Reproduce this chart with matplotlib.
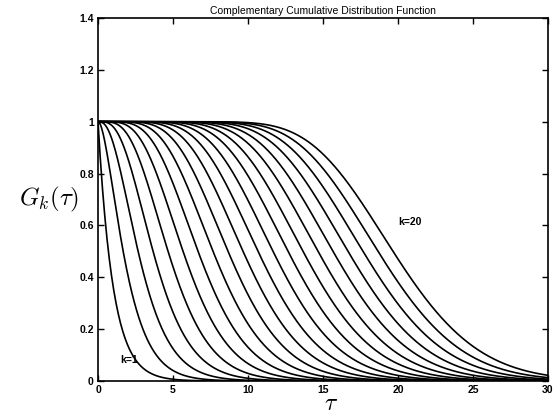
import math

import matplotlib
matplotlib.use("Agg")
import matplotlib.pyplot as plt
import numpy as np

# ===== DATA =====
# Erlang shape parameters for the plotted curves, unit rate
k_values = list(range(1, 21))
tau_max = 30.0
n_tau = 601
tau = np.linspace(0.0, tau_max, n_tau)


def erlang_ccdf(k, t):
    """G_k(t) = sum_{n<k} e^{-t} t^n / n!"""
    total = np.zeros_like(t)
    for n in range(k):
        total += t ** n / math.factorial(n)
    return np.exp(-t) * total


plt.rcParams["font.family"] = ["Liberation Sans", "DejaVu Sans"]
plt.rcParams["mathtext.fontset"] = "cm"

fig = plt.figure(figsize=(5.55, 4.15), dpi=100)
ax = fig.add_axes([98 / 555, 1 - 381 / 415, 450 / 555, 363 / 415])

for k in k_values:
    ax.plot(tau, erlang_ccdf(k, tau), color="black", lw=1.2)

ax.set_xlim(0, 30)
ax.set_ylim(0, 1.4)
ax.set_xticks([0, 5, 10, 15, 20, 25, 30])
ax.set_yticks([0, 0.2, 0.4, 0.6, 0.8, 1, 1.2, 1.4])
ax.set_yticklabels(["0", "0.2", "0.4", "0.6", "0.8", "1", "1.2", "1.4"])
ax.tick_params(direction="in", top=True, right=True, length=4, width=1,
               labelsize=7.5, pad=3)
for lab in ax.get_xticklabels() + ax.get_yticklabels():
    lab.set_fontweight("bold")
for sp in ax.spines.values():
    sp.set_linewidth(1.2)

ax.set_title("Complementary Cumulative Distribution Function",
             fontsize=7.5, pad=3)
ax.set_xlabel(r"$\tau$", fontsize=17, va="center")
ax.xaxis.set_label_coords((331 - 98) / 450, -(404 - 381) / 363)
ax.set_ylabel(r"$G_k(\tau)$", fontsize=18, rotation=0, labelpad=22,
              va="center")

ax.text(1.5, 0.07, "k=1", fontsize=7.5, fontweight="bold")
ax.text(20.0, 0.6, "k=20", fontsize=7.5, fontweight="bold")

plt.savefig("out.png", dpi=100)
plt.close()
